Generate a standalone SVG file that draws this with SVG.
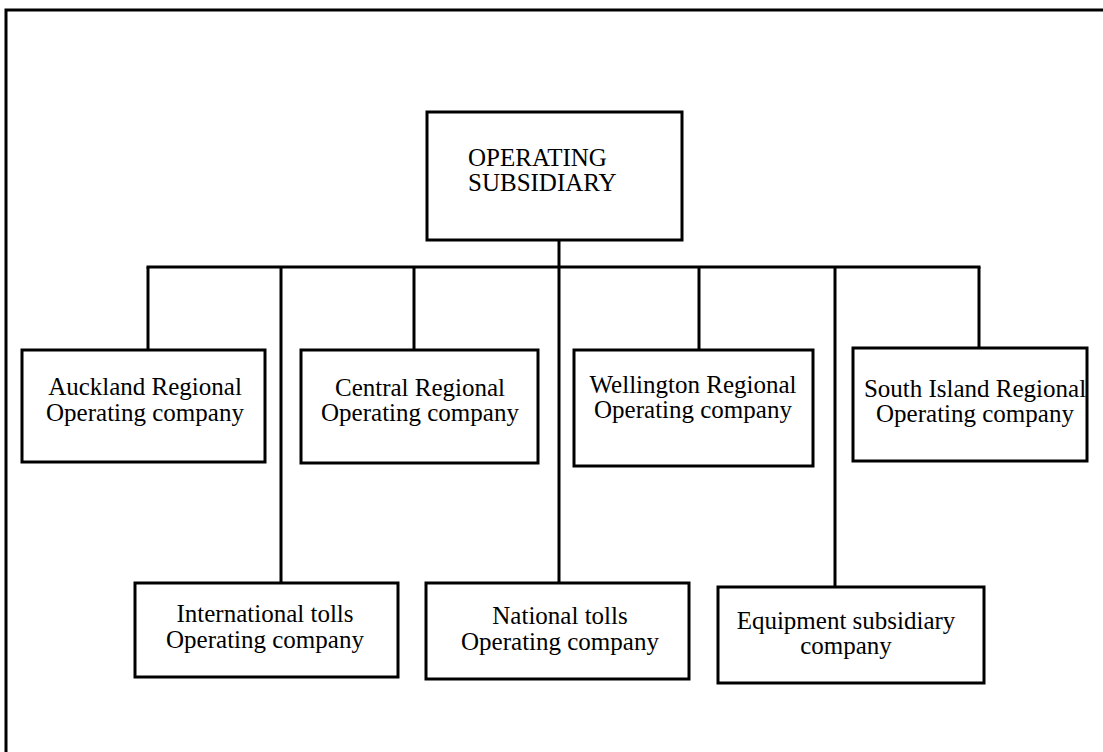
<svg xmlns="http://www.w3.org/2000/svg" width="1103" height="752" viewBox="0 0 1103 752">
<style>
.box{fill:#fff;stroke:#000;stroke-width:3}
.ln{stroke:#000;stroke-width:3;fill:none}
text{font-family:"Liberation Serif","Times New Roman",serif;font-size:25px;fill:#000}
.c{text-anchor:middle}
</style>
<rect width="1103" height="752" fill="#fff"/>
<g id="frame"><path class="ln" d="M6,752 V10 H1103"/></g>
<g id="connectors">
<line class="ln" x1="559" y1="240" x2="559" y2="267"/>
<line class="ln" x1="146.5" y1="267" x2="980.5" y2="267"/>
<line class="ln" x1="148" y1="267" x2="148" y2="350"/>
<line class="ln" x1="281" y1="267" x2="281" y2="583"/>
<line class="ln" x1="414" y1="267" x2="414" y2="350"/>
<line class="ln" x1="559" y1="267" x2="559" y2="583"/>
<line class="ln" x1="699" y1="267" x2="699" y2="350"/>
<line class="ln" x1="835" y1="267" x2="835" y2="587"/>
<line class="ln" x1="979" y1="267" x2="979" y2="348"/>
</g>
<g id="operating-subsidiary">
<rect class="box" x="427" y="112" width="255" height="128"/>
<text x="468" y="166">OPERATING</text>
<text x="468" y="191">SUBSIDIARY</text>
</g>
<g id="auckland">
<rect class="box" x="22" y="350" width="243" height="112"/>
<text class="c" x="145" y="395">Auckland Regional</text>
<text class="c" x="145" y="421">Operating company</text>
</g>
<g id="central">
<rect class="box" x="301" y="350" width="237" height="113"/>
<text class="c" x="420" y="396">Central Regional</text>
<text class="c" x="420" y="421">Operating company</text>
</g>
<g id="wellington">
<rect class="box" x="574" y="350" width="239" height="116"/>
<text class="c" x="693" y="393">Wellington Regional</text>
<text class="c" x="693" y="418">Operating company</text>
</g>
<g id="south-island">
<rect class="box" x="853" y="348" width="234" height="113"/>
<text class="c" x="975" y="397">South Island Regional</text>
<text class="c" x="975" y="422">Operating company</text>
</g>
<g id="international">
<rect class="box" x="135" y="583" width="263" height="94"/>
<text class="c" x="265" y="622">International tolls</text>
<text class="c" x="265" y="648">Operating company</text>
</g>
<g id="national">
<rect class="box" x="426" y="583" width="263" height="96"/>
<text class="c" x="560" y="624">National tolls</text>
<text class="c" x="560" y="650">Operating company</text>
</g>
<g id="equipment">
<rect class="box" x="718" y="587" width="266" height="96"/>
<text class="c" x="846" y="629">Equipment subsidiary</text>
<text class="c" x="846" y="654">company</text>
</g>
</svg>
